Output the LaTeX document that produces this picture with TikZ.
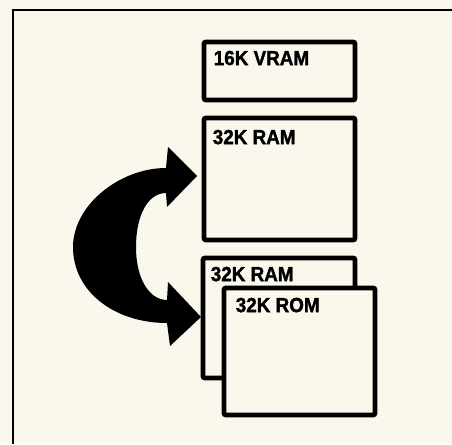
\documentclass[tikz,border=0pt]{standalone}
\usepackage{fontspec}
\setmainfont{Liberation Sans}
\newfontfamily\boxfont[FakeBold=1.5, FakeStretch=0.92]{Liberation Sans Bold}
\usetikzlibrary{positioning}

\definecolor{paper}{RGB}{250,247,236}

\tikzstyle{membox} = [draw, line width=4.8pt, rounded corners=2pt, fill=paper, inner sep=0pt, minimum width=151pt]
\tikzstyle{memlabel} = [font=\boxfont\fontsize{20.5}{20.5}\selectfont, inner sep=0pt]

\begin{document}
\begin{tikzpicture}[x=1pt, y=-1pt]
\fill[paper] (0,0) rectangle (452,444);
\useasboundingbox (0,0) rectangle (452,444);
\draw[line width=1.5pt] (452,10) -- (13,10) -- (13,444);

\node[membox, minimum height=58pt] (vram) at (279.5,71) {};
\node[membox, minimum height=122pt] (ram) at (279.5,179) {};
\node[membox, minimum height=120pt, minimum width=152pt] (ramb) at (279,318) {};
\node[membox, minimum height=127pt] (rom) at (299.5,351.5) {};

\node[memlabel, below right=11pt and 12pt of vram.north west] (vramlabel) {16K VRAM};
\node[memlabel, below right=14pt and 11pt of ram.north west] (ramlabel) {32K RAM};
\node[memlabel, below right=11pt and 10pt of ramb.north west] (ramblabel) {32K RAM};
\node[memlabel, below right=12pt and 14pt of rom.north west] (romlabel) {32K ROM};

\fill (166,168) .. controls (120,168) and (73,205) .. (73,247)
    .. controls (73,292) and (115,323) .. (167,323)
    -- (170,346) -- (201,317) -- (168,282) -- (167,300)
    .. controls (150,300) and (136,280) .. (136,247)
    .. controls (136,215) and (148,193) .. (166,193)
    -- (167,207) -- (197,176) -- (168,147) -- cycle;
\end{tikzpicture}
\end{document}
